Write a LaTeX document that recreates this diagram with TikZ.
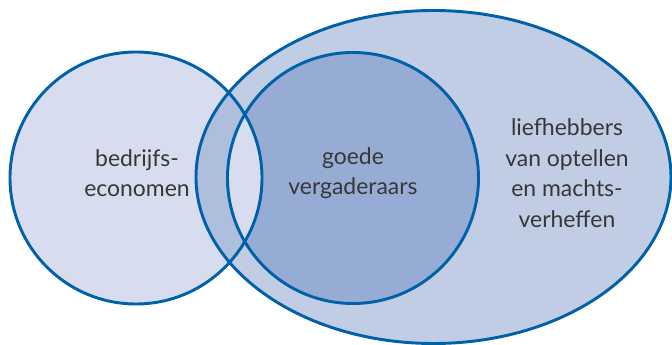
\documentclass[tikz,border=0pt]{standalone}
\usepackage{fontspec}
\setmainfont{Lato}
\definecolor{lineblue}{RGB}{0,97,169}
\definecolor{leftfill}{RGB}{215,220,238}
\definecolor{ellfill}{RGB}{193,204,229}
\definecolor{midfill}{RGB}{174,190,221}
\definecolor{innerfill}{RGB}{150,172,213}
\definecolor{txt}{RGB}{55,55,55}
\begin{document}
\begin{tikzpicture}[x=0.75pt,y=-0.75pt,
  outline/.style={draw=lineblue,line width=2.2pt},
  label/.style={text=txt,align=center,font=\fontsize{17.2}{23}\selectfont}]
\useasboundingbox (0,0) rectangle (672,345);
% fills
\fill[ellfill] (433.5,177) ellipse [x radius=237.5,y radius=166.5];
\fill[innerfill] (353,178) circle [radius=125.5];
\fill[leftfill] (136,178) circle [radius=126];
\begin{scope}
  \clip (136,178) circle [radius=126];
  \fill[midfill,even odd rule] (433.5,177) ellipse [x radius=237.5,y radius=166.5]
     (353,178) circle [radius=125.5];
\end{scope}
% outlines
\draw[outline] (433.5,177) ellipse [x radius=237.5,y radius=166.5];
\draw[outline] (353,178) circle [radius=125.5];
\draw[outline] (136,178) circle [radius=126];
% labels
\node[label] (a) at (137,173) {bedrijfs-\\economen};
\node[label] (b) at (353,173) {goede\\vergaderaars};
\node[label] (c) at (567,173) {liefhebbers\\van optellen\\en machts-\\verheffen};
\end{tikzpicture}
\end{document}
